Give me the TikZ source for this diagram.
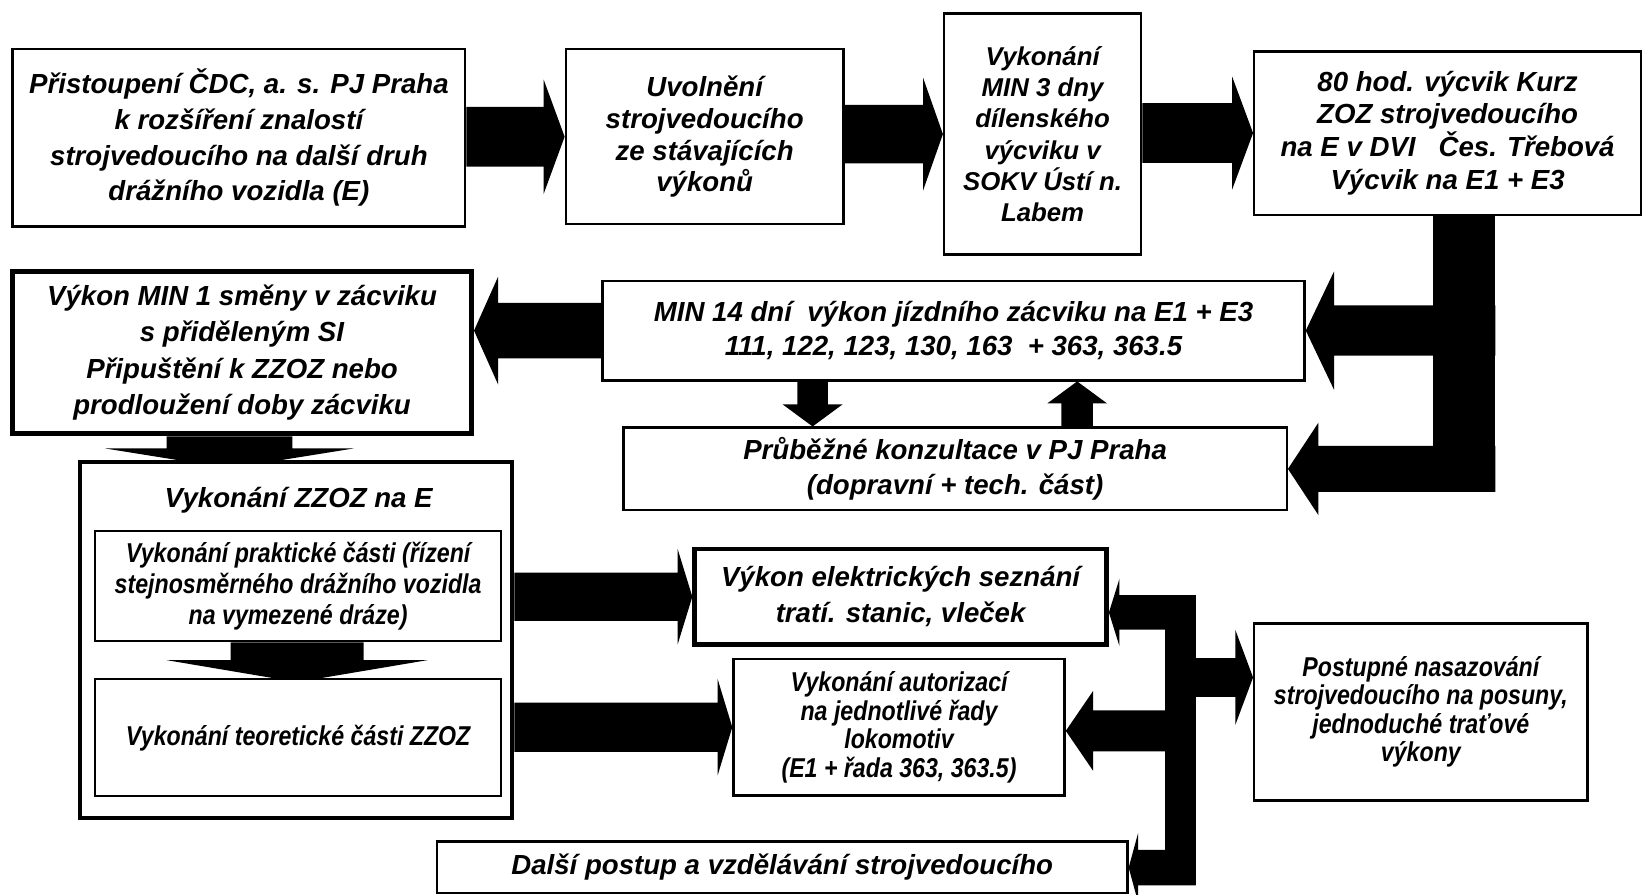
\documentclass[tikz,border=0pt]{standalone}
\usepackage{fontspec}
\setmainfont{Liberation Sans}
\newfontfamily\narrowsf{Liberation Sans}[FakeStretch=0.85]
\usepackage{tikz}
\usetikzlibrary{calc}

\newcommand{\bi}[2]{\bfseries\itshape\fontsize{#1}{#2}\selectfont}
\newcommand{\nbi}[2]{\narrowsf\bfseries\itshape\fontsize{#1}{#2}\selectfont}

% block arrows: #1 tail, #2 tip, #3 half shaft, #4 half head, #5 head length
\newcommand{\harrow}[5]{%
  \fill ($(#1 |- #2)+(0,#3)$) -- ($(#2)+({-(#5)},#3)$) -- ($(#2)+({-(#5)},#4)$) -- (#2)
    -- ($(#2)+({-(#5)},-#4)$) -- ($(#2)+({-(#5)},-#3)$) -- ($(#1 |- #2)+(0,-#3)$) -- cycle;}
\newcommand{\varrow}[5]{%
  \fill ($(#2 |- #1)+(#3,0)$) -- ($(#2)+(#3,{-(#5)})$) -- ($(#2)+(#4,{-(#5)})$) -- (#2)
    -- ($(#2)+(-#4,{-(#5)})$) -- ($(#2)+(-#3,{-(#5)})$) -- ($(#2 |- #1)+(-#3,0)$) -- cycle;}

\tikzset{
  box/.style={draw, fill=white, line width=1.3pt, align=center, inner sep=0pt},
  wh/.style 2 args={minimum width=#1*0.02cm, minimum height=#2*0.02cm},
}

\begin{document}
\begin{tikzpicture}[x=0.02cm, y=-0.02cm]
\useasboundingbox (0,0) rectangle (1568,854);

% Upper row
\node[box, wh={432}{169}, font=\bi{15}{19.3}] (A) at (228,131.5)
  {Přistoupení ČDC, a. s. PJ Praha\\k rozšíření znalostí\\strojvedoucího na další druh\\drážního vozidla (E)};
\node[box, wh={265}{167}, font=\bi{15}{17.3}] (B) at (672.5,130.5)
  {Uvolnění\\strojvedoucího\\ze stávajících\\výkonů};
\node[box, wh={188}{230}, font=\bi{14}{17}] (C) at (995,128)
  {Vykonání\\MIN 3 dny\\dílenského\\výcviku v\\SOKV Ústí n.\\Labem};
\node[box, wh={369}{156}, font=\bi{15}{17.8}] (D) at (1381.5,127)
  {80 hod. výcvik Kurz\\ZOZ strojvedoucího\\na E v DVI \ \ Čes. Třebová\\Výcvik na E1 + E3};

\harrow{A.east}{B.west}{28.5}{54.5}{20}
\harrow{B.east}{C.west}{28}{54}{19}
\harrow{C.east}{D.west}{28.5}{54}{20}

% Zacvik
\node[box, wh={670}{95}, font=\bi{15}{18.8}] (E) at (910,315.5)
  {MIN 14 dní \ výkon jízdního zácviku na E1 + E3\\111, 122, 123, 130, 163 \ + 363, 363.5};
\node[box, wh={633}{79}, font=\bi{15}{19.3}] (F) at (911.5,447.5)
  {Průběžné konzultace v PJ Praha\\(dopravní + tech. část)};
\node[box, line width=2.7pt, wh={438}{155}, font=\bi{15}{19.6}] (G) at (231,336.5)
  {Výkon MIN 1 směny v zácviku\\s přiděleným SI\\Připuštění k ZZOZ nebo\\prodloužení doby zácviku};

\coordinate (dbarL) at (1368,205);
\coordinate (dbarR) at (1427,469);
\fill (dbarL) rectangle (dbarR);
\harrow{dbarR}{E.east}{24}{56.5}{-27}
\harrow{dbarR}{F.east}{22}{44}{-29}

\coordinate (eftip) at (775.5,407);
\varrow{E.south}{eftip}{14.5}{28.5}{21}
\coordinate (fetip) at (1028,364);
\varrow{F.north}{fetip}{15}{28.5}{-21}

\coordinate (egtip) at (G.east |- E.west);
\harrow{E.west}{egtip}{26.5}{51.5}{-23}

% ZZOZ
\coordinate (ghtip) at (219,447);
\varrow{G.south}{ghtip}{60}{118.5}{19}
\node[box, line width=2.2pt, wh={413}{340}] (H) at (282.5,611) {};
\node[font=\bi{15}{19}] (Htitle) at (285,477) {Vykonání ZZOZ na E};
\node[box, line width=1.1pt, wh={387}{105}, font=\nbi{14.8}{17}] (H1) at (284.5,559.5)
  {Vykonání praktické části (řízení\\stejnosměrného drážního vozidla\\na vymezené dráze)};
\coordinate (h12tip) at (283.5,651);
\varrow{H1.south}{h12tip}{63.5}{124.5}{21}
\node[box, line width=1.1pt, wh={387}{112}, font=\nbi{14.8}{17}] (H2) at (284.5,704)
  {Vykonání teoretické části ZZOZ};

% Right part
\node[box, line width=2.6pt, wh={393}{91}, font=\bi{15}{19.3}] (I) at (859.5,569.5)
  {Výkon elektrických seznání\\tratí. stanic, vleček};
\node[box, wh={316}{130}, font=\nbi{14.8}{15.6}] (J) at (858,694)
  {Vykonání autorizací\\na jednotlivé řady\\lokomotiv\\(E1 + řada 363, 363.5)};
\node[box, wh={318}{169}, font=\nbi{14.8}{15.4}] (K) at (1356,679.5)
  {Postupné nasazování\\strojvedoucího na posuny,\\jednoduché traťové\\výkony};
\node[box, wh={659}{49}, font=\bi{15}{19}] (L) at (746.5,827.5)
  {Další postup a vzdělávání strojvedoucího};

\harrow{H.east}{I.west}{23}{45.5}{14}
\harrow{H.east}{J.west}{23.5}{46}{14}

\coordinate (rbarL) at (1112,568);
\coordinate (rbarR) at (1141,845);
\fill (rbarL) rectangle (rbarR);
\coordinate (itip) at (I.east |- 0,584.5);
\harrow{rbarR}{itip}{16.5}{32}{-10}
\coordinate (jtip) at (J.east |- 0,697.5);
\harrow{rbarR}{jtip}{19.5}{38}{-26}
\coordinate (ktip) at (K.west |- 0,646.5);
\harrow{rbarL}{ktip}{18.5}{45.5}{17}
\coordinate (ltip) at (L.east |- 0,828);
\harrow{rbarR}{ltip}{17}{33}{-9}

\end{tikzpicture}
\end{document}
